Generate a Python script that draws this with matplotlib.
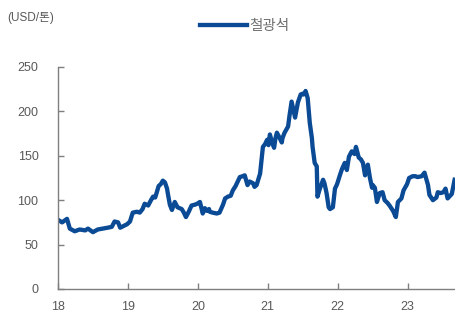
import matplotlib
matplotlib.use("Agg")
import matplotlib.pyplot as plt

# iron ore price (USD/ton); time as decimal year
years = [
    2018.00, 2018.06, 2018.13, 2018.17, 2018.24, 2018.31, 2018.39, 2018.43, 2018.50, 2018.57,
    2018.64, 2018.71, 2018.77, 2018.81, 2018.86, 2018.89, 2018.94, 2018.99, 2019.03, 2019.07,
    2019.13, 2019.17, 2019.21, 2019.24, 2019.29, 2019.33, 2019.36, 2019.39, 2019.41, 2019.44,
    2019.47, 2019.50, 2019.53, 2019.56, 2019.57, 2019.60, 2019.63, 2019.67, 2019.71, 2019.77,
    2019.80, 2019.83, 2019.87, 2019.91, 2019.96, 2019.99, 2020.03, 2020.07, 2020.10, 2020.13,
    2020.16, 2020.17, 2020.21, 2020.27, 2020.31, 2020.36, 2020.39, 2020.43, 2020.47, 2020.50,
    2020.54, 2020.60, 2020.64, 2020.67, 2020.71, 2020.74, 2020.79, 2020.81, 2020.84, 2020.89,
    2020.91, 2020.93, 2020.96, 2020.99, 2021.01, 2021.03, 2021.06, 2021.09, 2021.11, 2021.13,
    2021.17, 2021.20, 2021.21, 2021.24, 2021.29, 2021.31, 2021.34, 2021.37, 2021.39, 2021.43,
    2021.47, 2021.50, 2021.51, 2021.53, 2021.54, 2021.57, 2021.60, 2021.63, 2021.64, 2021.67,
    2021.70, 2021.71, 2021.74, 2021.79, 2021.81, 2021.84, 2021.87, 2021.89, 2021.93, 2021.96,
    2021.99, 2022.03, 2022.06, 2022.10, 2022.13, 2022.16, 2022.20, 2022.24, 2022.26, 2022.30,
    2022.33, 2022.36, 2022.39, 2022.43, 2022.46, 2022.49, 2022.50, 2022.53, 2022.56, 2022.60,
    2022.64, 2022.67, 2022.71, 2022.74, 2022.79, 2022.83, 2022.86, 2022.91, 2022.94, 2022.99,
    2023.02, 2023.07, 2023.11, 2023.14, 2023.20, 2023.24, 2023.29, 2023.31, 2023.36, 2023.41,
    2023.43, 2023.47, 2023.51, 2023.54, 2023.57, 2023.63, 2023.67,
]
iron_ore = [
    78, 75, 79, 68, 65, 67, 66, 68, 64, 67,
    68, 69, 70, 76, 75, 69, 71, 73, 76, 86,
    87, 86, 90, 96, 94, 100, 104, 103, 108, 116,
    118, 122, 120, 113, 108, 95, 89, 98, 92, 90,
    86, 81, 87, 94, 95, 96, 98, 85, 91, 88,
    90, 87, 86, 85, 86, 95, 102, 104, 105, 111,
    116, 126, 127, 128, 117, 121, 119, 115, 117, 130,
    145, 160, 163, 168, 162, 174, 165, 159, 170, 176,
    170, 165, 170, 176, 183, 195, 211, 200, 193, 210,
    219, 220, 219, 221, 223, 215, 187, 170, 160, 142,
    138, 104, 112, 123, 119, 108, 92, 90, 92, 113,
    118, 128, 135, 142, 134, 149, 155, 152, 160, 148,
    146, 142, 128, 140, 125, 114, 117, 114, 98, 108,
    109, 100, 97, 94, 88, 81, 98, 102, 111, 118,
    125, 127, 127, 126, 127, 131, 117, 106, 100, 103,
    109, 108, 109, 113, 102, 107, 123,
]

x_ticks = [2018, 2019, 2020, 2021, 2022, 2023]
x_tick_labels = ["18", "19", "20", "21", "22", "23"]
y_ticks = [0, 50, 100, 150, 200, 250]

plt.rcParams["font.family"] = ["Liberation Sans", "Noto Sans CJK KR"]

line_color = "#0B4A94"
text_color = "#595959"
axis_color = "#7f7f7f"

fig = plt.figure(figsize=(4.56, 3.22), dpi=100)
ax = fig.add_axes([0.127, 0.1025, 0.873, 0.6895])

ax.plot(years, iron_ore, color=line_color, linewidth=3.1, label="철광석",
        solid_joinstyle="round")

ax.set_xlim(2018, 2023.69)
ax.set_ylim(0, 250)
ax.set_xticks(x_ticks)
ax.set_xticklabels(x_tick_labels)
ax.set_yticks(y_ticks)

for side in ["top", "right"]:
    ax.spines[side].set_visible(False)
for side in ["left", "bottom"]:
    ax.spines[side].set_color(axis_color)
    ax.spines[side].set_linewidth(1.0)

ax.tick_params(axis="both", direction="in", length=4, width=1.0, color=axis_color,
               labelcolor=text_color, labelsize=9)
ax.tick_params(axis="y", pad=14)
ax.tick_params(axis="x", pad=9)

fig.text(0.015, 0.945, "(USD/톤)", fontsize=8.5, color=text_color, va="center", ha="left")
fig.legend(loc="center", bbox_to_anchor=(0.537, 0.92), frameon=False, fontsize=10.5,
           handlelength=3.2, handletextpad=0.2, labelcolor="#707070")

fig.savefig("out.png", dpi=100)
plt.close(fig)
